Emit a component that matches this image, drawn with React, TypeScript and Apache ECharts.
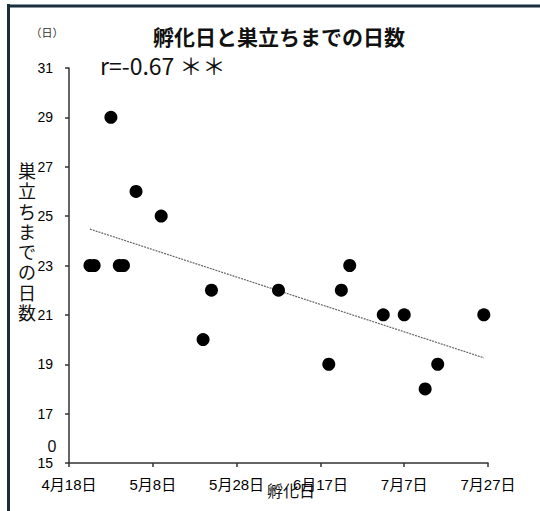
import React, { useEffect, useRef } from "react";
import * as echarts from "echarts";

const chartTitle = "孵化日と巣立ちまでの日数";
const yAxisName = "巣立ちまでの日数";
const xAxisName = "孵化日";
const yUnit = "（日）";
const corrText = "r=-0.67 ＊＊";
const axisStart = [2013, 4, 18];
const xTickLabels = ["4月18日", "5月8日", "5月28日", "6月17日", "7月7日", "7月27日"];
const yTicks = [15, 17, 19, 21, 23, 25, 27, 29, 31];
const hatchDates = [
  "04-23", "04-24", "04-28", "04-30", "05-01", "05-04", "05-10", "05-20", "05-22",
  "06-07", "06-19", "06-22", "06-24", "07-02", "07-07", "07-12", "07-15", "07-26",
];
const fledgeDays = [23, 23, 29, 23, 23, 26, 25, 20, 22, 22, 19, 22, 23, 21, 21, 18, 19, 21];

const FONT = "'Liberation Sans', 'Noto Sans CJK JP', sans-serif";

function dayOffset(md: string): number {
  const [m, d] = md.split("-").map(Number);
  const t0 = Date.UTC(axisStart[0], axisStart[1] - 1, axisStart[2]);
  const t = Date.UTC(axisStart[0], m - 1, d);
  return Math.round((t - t0) / 86400000);
}

export default function App() {
  const ref = useRef<HTMLDivElement>(null);
  useEffect(() => {
    if (!ref.current) return;
    const chart = echarts.init(ref.current, null, { renderer: "svg" });
    const xs = hatchDates.map(dayOffset);
    const pts = xs.map((x, i) => [x, fledgeDays[i]]);
    const n = xs.length;
    const mx = xs.reduce((a, b) => a + b, 0) / n;
    const my = fledgeDays.reduce((a, b) => a + b, 0) / n;
    let sxy = 0, sxx = 0;
    xs.forEach((x, i) => { sxy += (x - mx) * (fledgeDays[i] - my); sxx += (x - mx) * (x - mx); });
    const slope = sxy / sxx;
    const icpt = my - slope * mx;
    const xmin = Math.min(...xs), xmax = Math.max(...xs);
    const trend = [[xmin, icpt + slope * xmin], [xmax, icpt + slope * xmax]];

    chart.setOption({
      animation: false,
      backgroundColor: "#fff",
      grid: { left: 69, right: 52, top: 68, bottom: 48, containLabel: false },
      xAxis: {
        type: "value",
        min: 0,
        max: 100,
        interval: 20,
        splitLine: { show: false },
        axisLine: { show: true, lineStyle: { color: "#333", width: 1.5 } },
        axisTick: { show: true, length: 4, lineStyle: { color: "#333", width: 1.5 } },
        axisLabel: {
          margin: 14,
          fontSize: 15,
          color: "#000",
          fontFamily: FONT,
          formatter: (v: number) => xTickLabels[Math.round(v / 20)] ?? "",
        },
      },
      yAxis: {
        type: "value",
        min: yTicks[0],
        max: yTicks[yTicks.length - 1],
        interval: 2,
        splitLine: { show: false },
        axisLine: { show: true, onZero: false, lineStyle: { color: "#333", width: 1.5 } },
        axisTick: { show: true, length: 4, lineStyle: { color: "#333", width: 1.5 } },
        axisLabel: {
          margin: 16,
          fontSize: 14,
          color: "#000",
          fontFamily: FONT,
          formatter: (v: number) => String(v),
        },
      },
      series: [
        {
          type: "line",
          data: trend,
          symbol: "none",
          lineStyle: { color: "#666", width: 1.2, type: [2, 1] },
          z: 1,
        },
        {
          type: "scatter",
          data: pts,
          symbol: "circle",
          symbolSize: 13,
          itemStyle: { color: "#000", opacity: 1, borderWidth: 0 },
          emphasis: { disabled: true },
          z: 2,
        },
      ],
      graphic: [
        { type: "rect", shape: { x: 7, y: 4, width: 540, height: 1 }, style: { fill: "#8797a3" } },
        { type: "rect", shape: { x: 7, y: 5, width: 540, height: 2.5 }, style: { fill: "#1b2e3b" } },
        { type: "rect", shape: { x: 7, y: 4, width: 3, height: 520 }, style: { fill: "#1b2e3b" } },
        {
          type: "text", x: 279, y: 36,
          style: { text: chartTitle, fontSize: 21, fontWeight: "bold", fill: "#111", fontFamily: "'Noto Sans CJK JP', sans-serif", align: "center", verticalAlign: "middle" },
        },
        {
          type: "text", x: 47, y: 32,
          style: { text: yUnit, fontSize: 11, fill: "#333", fontFamily: "'Noto Sans CJK JP', sans-serif", align: "center", verticalAlign: "middle" },
        },
        {
          type: "text", x: 100, y: 65,
          style: { text: corrText, fontSize: 23, fill: "#111", fontFamily: "'Noto Sans CJK JP', sans-serif", align: "left", verticalAlign: "middle" },
        },
        {
          type: "text", x: 27, y: 241,
          style: { text: yAxisName.split("").join("\n"), fontSize: 18, lineHeight: 20.3, fill: "#111", fontFamily: "'Noto Sans CJK JP', sans-serif", align: "center", verticalAlign: "middle" },
        },
        {
          type: "text", x: 291, y: 490,
          style: { text: xAxisName, fontSize: 16, fill: "#111", fontFamily: "'Noto Sans CJK JP', sans-serif", align: "center", verticalAlign: "middle" },
        },
        {
          type: "text", x: 52, y: 446,
          style: { text: "0", fontSize: 16, fill: "#111", fontFamily: FONT, align: "center", verticalAlign: "middle" },
        },
      ],
    });
    return () => chart.dispose();
  }, []);
  return (
    <div
      ref={ref}
      style={{ position: "absolute", left: 0, top: 0, width: 540, height: 511, background: "#fff" }}
    />
  );
}
